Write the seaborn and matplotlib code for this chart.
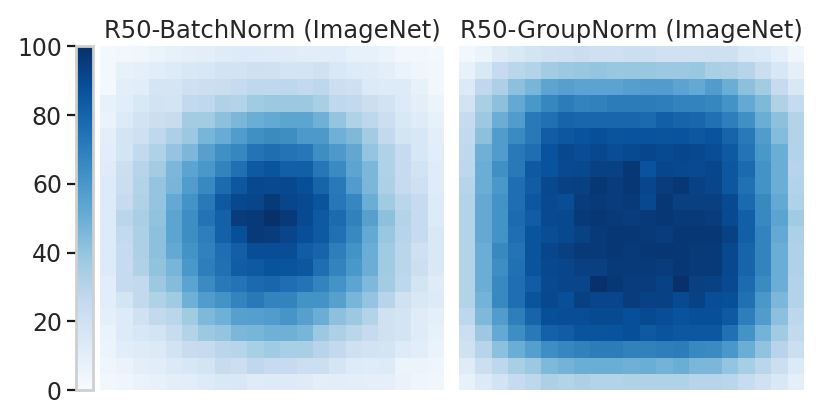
import numpy as np
import matplotlib
matplotlib.use("Agg")
import matplotlib.pyplot as plt
import seaborn as sns

titles = ["R50-BatchNorm (ImageNet)", "R50-GroupNorm (ImageNet)"]
cbar_ticks = [0, 20, 40, 60, 80, 100]

batchnorm = [
    [2,3,4,6,8,9,10,12,13,13,12,12,11,11,11,8,8,6,3,3,2],
    [2,8,9,11,13,15,16,19,19,21,20,18,18,20,15,13,12,10,7,5,3],
    [2,10,11,17,17,21,22,23,25,27,27,28,26,28,22,21,14,13,13,8,3],
    [8,11,15,19,18,26,27,32,31,37,38,38,38,34,27,26,22,19,13,10,6],
    [7,13,19,22,24,36,36,42,46,50,52,54,54,49,40,32,28,22,15,12,8],
    [10,18,21,27,33,38,47,51,58,63,65,64,59,59,49,45,36,26,18,16,10],
    [11,18,26,32,40,46,56,63,67,74,76,74,73,64,59,53,40,32,25,16,11],
    [12,22,30,36,46,55,60,68,75,84,86,82,82,73,65,54,46,32,25,19,12],
    [13,23,31,40,47,58,66,77,85,91,90,91,88,80,72,58,46,33,25,21,12],
    [13,25,32,40,52,62,72,84,91,92,96,92,90,86,73,67,50,37,29,25,13],
    [13,29,34,41,54,64,74,81,95,96,100,96,90,84,77,69,56,42,31,25,13],
    [13,26,33,42,54,64,70,81,88,96,95,92,88,84,75,66,52,39,30,25,15],
    [13,25,33,42,52,62,69,76,82,89,89,89,83,80,70,62,50,37,29,21,15],
    [13,25,32,41,47,60,70,75,83,84,87,86,85,76,68,60,50,37,29,22,15],
    [11,25,26,38,44,55,65,72,74,78,79,76,74,68,62,54,45,36,28,18,12],
    [11,18,26,32,37,49,58,62,68,72,68,68,62,62,56,47,40,30,20,15,13],
    [9,13,20,26,29,37,45,49,56,57,58,61,56,50,42,38,31,20,18,12,9],
    [7,13,16,18,24,31,38,40,46,47,49,49,47,38,33,29,25,20,18,12,8],
    [6,11,12,14,19,24,25,29,30,34,37,34,34,30,26,21,19,18,13,11,7],
    [5,7,10,11,14,16,18,24,22,27,25,25,22,22,17,13,12,13,6,6,5],
    [3,5,7,8,10,11,13,15,15,12,13,13,12,10,11,10,9,9,7,5,4],
]

groupnorm = [
    [3,6,12,15,18,20,21,23,21,21,22,22,20,20,20,21,21,15,14,9,4],
    [8,15,25,29,31,36,38,39,40,39,39,39,38,38,39,34,33,30,23,16,9],
    [14,27,33,42,47,54,56,55,55,55,57,58,58,55,52,58,50,42,36,25,15],
    [19,34,42,52,60,67,71,68,69,71,71,71,70,68,68,67,62,52,45,32,25],
    [25,38,50,58,72,75,80,79,79,79,79,78,82,80,79,75,70,63,50,42,31],
    [26,42,58,65,72,83,85,87,88,86,87,87,86,87,85,87,80,72,58,44,31],
    [27,49,58,72,76,87,91,89,91,89,90,92,90,92,91,89,84,74,60,50,31],
    [28,50,63,72,84,87,90,91,93,93,97,87,92,91,90,92,85,78,62,50,30],
    [30,50,60,76,83,91,93,94,97,95,97,92,95,97,93,92,85,75,62,50,31],
    [31,52,62,76,85,90,89,95,96,95,96,91,97,94,94,94,90,78,66,52,32],
    [31,52,62,77,83,90,91,96,97,96,95,96,97,96,96,95,90,82,66,55,37],
    [31,52,62,76,86,89,91,93,96,97,97,96,95,97,97,97,93,82,68,52,33],
    [31,50,66,74,86,92,94,96,96,97,96,97,98,97,96,96,91,80,68,50,32],
    [31,50,64,75,86,91,92,94,94,96,96,96,95,97,96,96,91,80,68,50,32],
    [31,50,66,76,83,90,92,92,100,97,95,95,93,100,94,93,90,77,65,50,31],
    [31,48,66,76,86,91,88,94,92,92,95,93,93,90,93,89,88,75,60,46,31],
    [28,45,58,70,80,88,89,89,90,90,88,90,89,87,88,88,84,70,58,42,28],
    [22,38,52,64,72,81,83,86,86,87,88,84,86,85,85,85,75,62,48,37,26],
    [20,30,42,50,57,64,67,69,71,71,69,69,70,71,66,65,60,50,41,30,22],
    [12,22,28,34,38,45,48,50,50,50,49,50,48,50,46,46,40,35,29,22,14],
    [8,14,19,25,28,33,31,33,31,31,32,32,32,32,30,30,29,24,20,15,9],
]

sns.set_theme(style="white", font="DejaVu Sans")
W, H = 829, 419
fig = plt.figure(figsize=(W / 100, H / 100), dpi=100)


def box(x0, y0, x1, y1):
    return [x0 / W, 1 - y1 / H, (x1 - x0) / W, (y1 - y0) / H]


cax = fig.add_axes(box(76.5, 46.5, 93.5, 390))
ax1 = fig.add_axes(box(100, 46, 444, 390.5))
ax2 = fig.add_axes(box(459, 46, 804, 390.5))

sns.heatmap(np.array(batchnorm), ax=ax1, cmap="Blues", vmin=0, vmax=100,
            cbar_ax=cax, xticklabels=False, yticklabels=False)
sns.heatmap(np.array(groupnorm), ax=ax2, cmap="Blues", vmin=0, vmax=100,
            cbar=False, xticklabels=False, yticklabels=False)

for ax, title in zip((ax1, ax2), titles):
    ax.set_title(title, fontsize=17.5, color=".15", pad=6)
    ax.tick_params(left=False, bottom=False)

cbar = ax1.collections[0].colorbar
cbar.set_ticks(cbar_ticks)
cbar.outline.set_visible(True)
cbar.outline.set_edgecolor("#cfcfcf")
cbar.outline.set_linewidth(2)
cax.yaxis.set_ticks_position("left")
cax.tick_params(axis="y", which="major", left=True, right=False, length=6.5,
                width=1.6, color=".1", labelsize=17, labelcolor=".15", pad=4)

fig.savefig("out.png", dpi=100)
